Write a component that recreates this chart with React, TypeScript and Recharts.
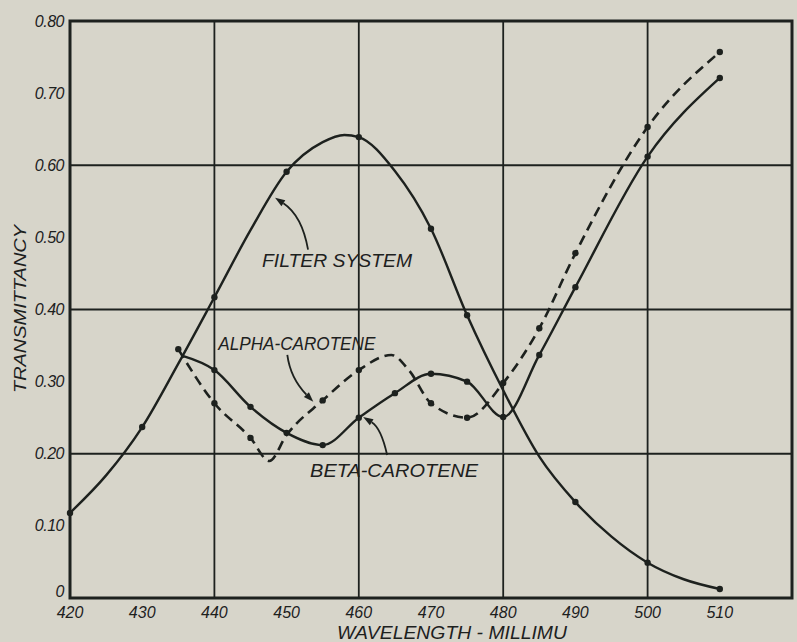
import React from "react";
import {
  LineChart,
  Line,
  XAxis,
  YAxis,
  ReferenceLine,
  ReferenceDot,
} from "recharts";

const INK = "#1d211e";
const PAPER = "#d7d5ca";
const FONT = "'Liberation Sans', Arial, sans-serif";

const W = 797;
const H = 642;
const MARGIN = { top: 21, right: 5, bottom: 14, left: 0 };
const Y_AXIS_W = 70;
const X_AXIS_H = 30;

// axis ticks and grid
const wavelengthTicks = [420, 430, 440, 450, 460, 470, 480, 490, 500, 510, 520];
const transmittancyTicks = [0, 0.1, 0.2, 0.3, 0.4, 0.5, 0.6, 0.7, 0.8];
const verticalGrid = [440, 460, 480, 500];
const horizontalGrid = [0.2, 0.4, 0.6];

type Pt = { wl: number; t: number; dot?: boolean };

const filterSystem: Pt[] = [
  { wl: 420, t: 0.118, dot: true },
  { wl: 425, t: 0.17 },
  { wl: 430, t: 0.237, dot: true },
  { wl: 435, t: 0.325 },
  { wl: 440, t: 0.417, dot: true },
  { wl: 445, t: 0.51 },
  { wl: 450, t: 0.591, dot: true },
  { wl: 455, t: 0.632 },
  { wl: 458, t: 0.642 },
  { wl: 460, t: 0.639, dot: true },
  { wl: 465, t: 0.592 },
  { wl: 470, t: 0.512, dot: true },
  { wl: 475, t: 0.392, dot: true },
  { wl: 480, t: 0.288 },
  { wl: 485, t: 0.196 },
  { wl: 490, t: 0.133, dot: true },
  { wl: 495, t: 0.085 },
  { wl: 500, t: 0.049, dot: true },
  { wl: 505, t: 0.026 },
  { wl: 510, t: 0.0125, dot: true },
];

const alphaCarotene: Pt[] = [
  { wl: 435, t: 0.345, dot: true },
  { wl: 440, t: 0.27, dot: true },
  { wl: 445, t: 0.222, dot: true },
  { wl: 447.6, t: 0.19 },
  { wl: 450, t: 0.226 },
  { wl: 455, t: 0.274, dot: true },
  { wl: 460, t: 0.316, dot: true },
  { wl: 464.5, t: 0.337 },
  { wl: 467, t: 0.315 },
  { wl: 470, t: 0.27, dot: true },
  { wl: 475, t: 0.25, dot: true },
  { wl: 480, t: 0.298, dot: true },
  { wl: 485, t: 0.374, dot: true },
  { wl: 490, t: 0.478, dot: true },
  { wl: 500, t: 0.653, dot: true },
  { wl: 510, t: 0.757, dot: true },
];

const betaCarotene: Pt[] = [
  { wl: 435.5, t: 0.336 },
  { wl: 440, t: 0.316, dot: true },
  { wl: 445, t: 0.265, dot: true },
  { wl: 450, t: 0.229, dot: true },
  { wl: 455, t: 0.212, dot: true },
  { wl: 460, t: 0.25, dot: true },
  { wl: 465, t: 0.284, dot: true },
  { wl: 470, t: 0.311, dot: true },
  { wl: 475, t: 0.3, dot: true },
  { wl: 480, t: 0.251, dot: true },
  { wl: 485, t: 0.337, dot: true },
  { wl: 490, t: 0.431, dot: true },
  { wl: 500, t: 0.612, dot: true },
  { wl: 510, t: 0.721, dot: true },
];

// curve labels: arrow tip in data units, the rest in pixel offsets from it
const annotations = [
  { text: "FILTER SYSTEM", wl: 448.4, t: 0.555, tail: [33, 52], ctrl: [27, 18], label: [-13, 69], width: 150 },
  { text: "ALPHA-CAROTENE", wl: 453.7, t: 0.272, tail: [-26, -47], ctrl: [-23, -24], label: [-95, -52], width: 157 },
  { text: "BETA-CAROTENE", wl: 460.6, t: 0.251, tail: [24, 38], ctrl: [18, 11], label: [-53, 60], width: 168 },
];

const renderDot = (props: any) => {
  const { cx, cy, payload, index } = props;
  if (!payload || !payload.dot) return <g key={`n-${index}`} />;
  return <circle key={`d-${index}`} cx={cx} cy={cy} r={3.2} fill={INK} />;
};

const XTick = (props: any) => {
  const { x, y, payload } = props;
  if (payload.value === 520) return <g />;
  return (
    <text x={x} y={y + 20} textAnchor="middle" fontFamily={FONT} fontStyle="italic" fontSize={16} fill={INK}>
      {payload.value}
    </text>
  );
};

const YTick = (props: any) => {
  const { x, y, payload } = props;
  const v = payload.value;
  return (
    <text
      x={x - 6}
      y={v === 0 ? y - 1 : y + 5.5}
      textAnchor="end"
      fontFamily={FONT}
      fontStyle="italic"
      fontSize={16}
      letterSpacing={-0.5}
      fill={INK}
    >
      {v === 0 ? "0" : v.toFixed(2)}
    </text>
  );
};

const arrowShape = (a: (typeof annotations)[number]) => (props: any) => {
  const { cx, cy } = props;
  const [tx, ty] = a.tail;
  const [qx, qy] = a.ctrl;
  const dx = -qx;
  const dy = -qy;
  const len = Math.hypot(dx, dy) || 1;
  const ux = dx / len;
  const uy = dy / len;
  const head = 10;
  const half = 3.5;
  const bx = cx - ux * head;
  const by = cy - uy * head;
  return (
    <g>
      <path
        d={`M${cx + tx},${cy + ty} Q${cx + qx},${cy + qy} ${bx},${by}`}
        stroke={INK}
        strokeWidth={1.8}
        fill="none"
      />
      <path
        d={`M${cx},${cy} L${bx - uy * half},${by + ux * half} L${bx + uy * half},${by - ux * half} Z`}
        fill={INK}
      />
      <text
        x={cx + a.label[0]}
        y={cy + a.label[1]}
        fontFamily={FONT}
        fontStyle="italic"
        fontSize={19}
        textLength={a.width}
        lengthAdjust="spacingAndGlyphs"
        fill={INK}
      >
        {a.text}
      </text>
    </g>
  );
};

// plot frame: the area left over by margins and axes
const frameX = MARGIN.left + Y_AXIS_W;
const frameY = MARGIN.top;
const frameW = W - MARGIN.left - MARGIN.right - Y_AXIS_W;
const frameH = H - MARGIN.top - MARGIN.bottom - X_AXIS_H;

export default function App() {
  return (
    <div style={{ position: "absolute", left: 0, top: 0, width: W, height: H, background: PAPER }}>
      <LineChart width={W} height={H} margin={MARGIN}>
        <XAxis
          type="number"
          dataKey="wl"
          domain={[420, 520]}
          ticks={wavelengthTicks}
          height={X_AXIS_H}
          axisLine={false}
          tickLine={false}
          tickSize={0}
          tickMargin={0}
          tick={<XTick />}
          interval={0}
        />
        <YAxis
          type="number"
          dataKey="t"
          domain={[0, 0.8]}
          ticks={transmittancyTicks}
          width={Y_AXIS_W}
          axisLine={false}
          tickLine={false}
          tickSize={0}
          tickMargin={0}
          tick={<YTick />}
          interval={0}
        />
        {verticalGrid.map((v) => (
          <ReferenceLine key={`vx-${v}`} x={v} stroke={INK} strokeWidth={1.8} />
        ))}
        {horizontalGrid.map((v) => (
          <ReferenceLine key={`hy-${v}`} y={v} stroke={INK} strokeWidth={1.8} />
        ))}
        <rect x={frameX} y={frameY} width={frameW} height={frameH} fill="none" stroke={INK} strokeWidth={3} />
        <Line
          data={filterSystem}
          dataKey="t"
          type="monotone"
          stroke={INK}
          strokeWidth={2.4}
          dot={renderDot}
          activeDot={false}
          isAnimationActive={false}
        />
        <Line
          data={alphaCarotene}
          dataKey="t"
          type="monotone"
          stroke={INK}
          strokeWidth={2.6}
          strokeDasharray="10 6"
          dot={renderDot}
          activeDot={false}
          isAnimationActive={false}
        />
        <Line
          data={betaCarotene}
          dataKey="t"
          type="monotone"
          stroke={INK}
          strokeWidth={2.4}
          dot={renderDot}
          activeDot={false}
          isAnimationActive={false}
        />
        {annotations.map((a) => (
          <ReferenceDot key={a.text} x={a.wl} y={a.t} r={0} shape={arrowShape(a)} />
        ))}
        <text
          x={20}
          y={309}
          transform="rotate(-90 20 309)"
          textAnchor="middle"
          dominantBaseline="central"
          fontFamily={FONT}
          fontStyle="italic"
          fontSize={17}
          textLength={168}
          lengthAdjust="spacingAndGlyphs"
          fill={INK}
        >
          TRANSMITTANCY
        </text>
        <text
          x={337}
          y={639}
          fontFamily={FONT}
          fontStyle="italic"
          fontSize={19}
          textLength={230}
          lengthAdjust="spacingAndGlyphs"
          fill={INK}
        >
          WAVELENGTH - MILLIMU
        </text>
      </LineChart>
    </div>
  );
}
